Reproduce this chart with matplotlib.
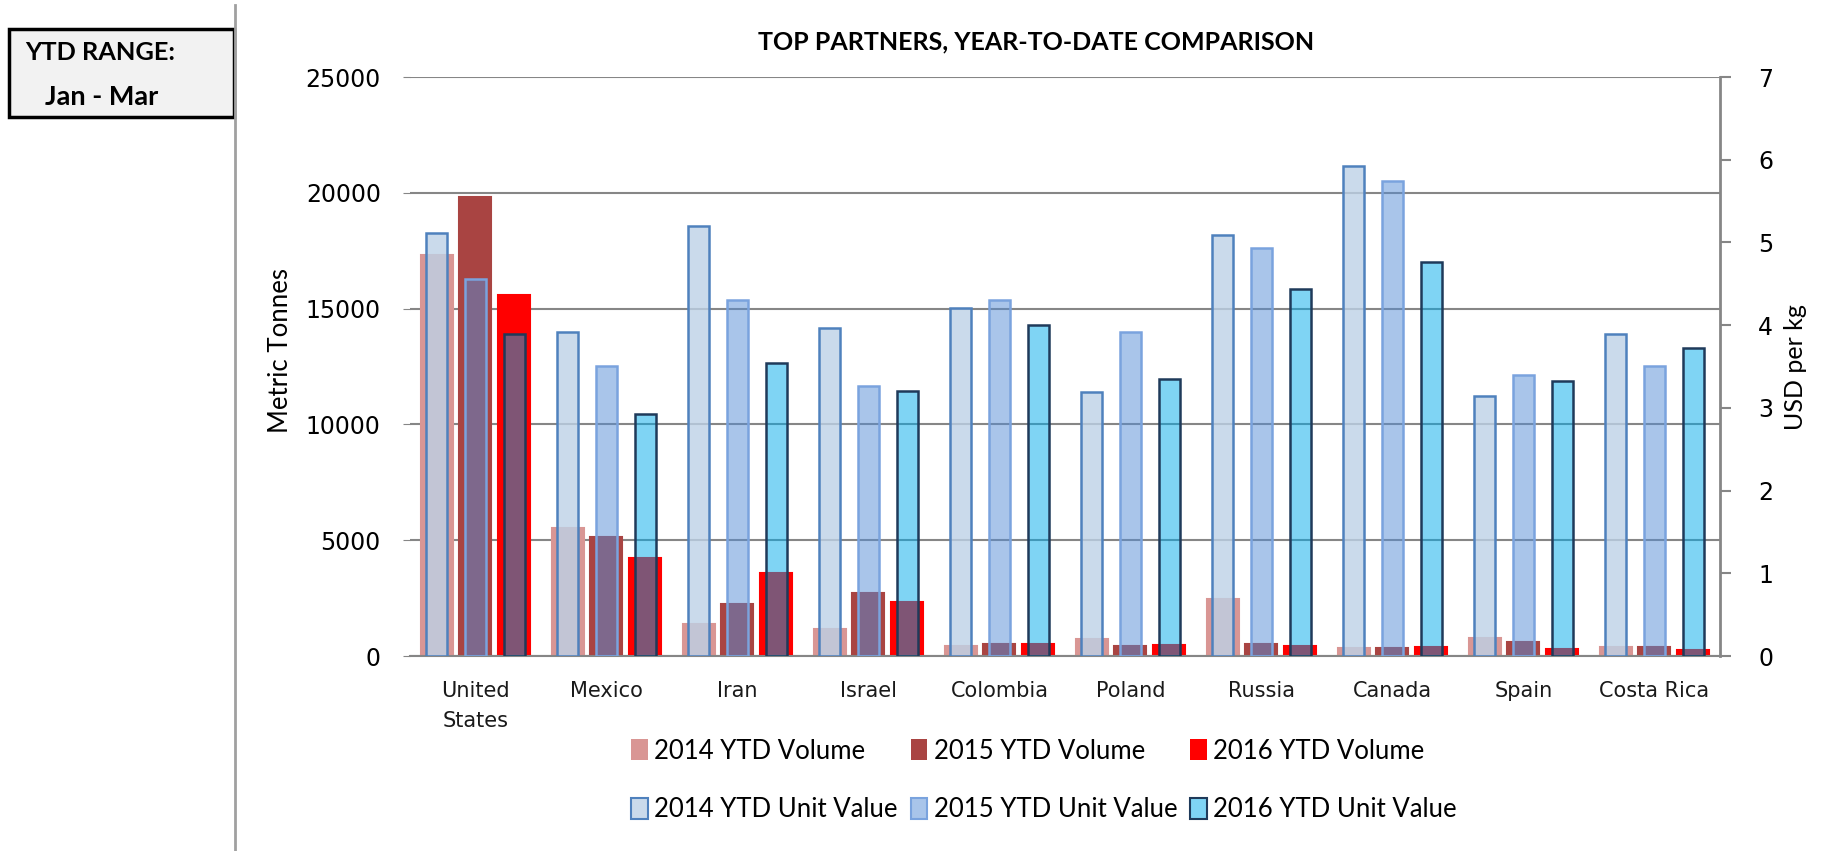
import numpy as np
import matplotlib.pyplot as plt
from matplotlib.patches import Patch, Rectangle
from matplotlib.lines import Line2D

# 数据
countries = ['United\nStates', 'Mexico', 'Iran', 'Israel', 'Colombia',
             'Poland', 'Russia', 'Canada', 'Spain', 'Costa Rica']
vol_2014 = [17300, 5550, 1370, 1170, 430, 720, 2450, 340, 800, 410]
vol_2015 = [19800, 5150, 2260, 2730, 520, 430, 540, 340, 610, 410]
vol_2016 = [15600, 4250, 3600, 2350, 540, 500, 440, 380, 300, 270]
uv_2014 = [5.11, 3.92, 5.20, 3.97, 4.21, 3.19, 5.09, 5.93, 3.15, 3.89]
uv_2015 = [4.56, 3.51, 4.30, 3.26, 4.30, 3.92, 4.93, 5.74, 3.40, 3.51]
uv_2016 = [3.89, 2.93, 3.54, 3.21, 4.00, 3.35, 4.44, 4.76, 3.32, 3.73]
vol_labels = ['2014 YTD Volume', '2015 YTD Volume', '2016 YTD Volume']
uv_labels = ['2014 YTD Unit Value', '2015 YTD Unit Value', '2016 YTD Unit Value']

GRID = '#868686'
vol_colors = ['#d99694', '#a94442', '#ff0000']
uv_fill = [(0.74, 0.82, 0.90, 0.8), (0.33, 0.55, 0.84, 0.5), (0.0, 0.67, 0.92, 0.5)]
uv_edge = ['#4f81bd', '#7aa3de', '#1f3a5a']

fig = plt.figure(figsize=(18.35, 8.51), dpi=100)
ax = fig.add_axes([0.2234, 0.229, 0.7139, 0.6805])
x = np.arange(len(countries))
offsets = [-0.295, 0.0, 0.295]

for vals, off, c in zip([vol_2014, vol_2015, vol_2016], offsets, vol_colors):
    ax.bar(x + off, vals, width=0.245, color=c, edgecolor=c, linewidth=1.5)

ax.set_xlim(-0.5, len(countries) - 0.5)
ax.set_ylim(0, 25000)
ax.set_yticks(np.arange(0, 25001, 5000))
ax.yaxis.grid(True, color=GRID, linewidth=1.5)
ax.set_axisbelow(True)
ax.set_xticks(x)
ax.set_xticklabels(countries, fontsize=15, family='DejaVu Sans', color='#1a1a1a')
for t in ax.get_xticklabels():
    t.set_linespacing(1.6)
ax.tick_params(axis='x', length=0, pad=18)
ax.tick_params(axis='y', length=5, color=GRID, labelsize=17, pad=16)
for s in ['left', 'top', 'right']:
    ax.spines[s].set_visible(False)
ax.spines['bottom'].set_color(GRID)
ax.spines['bottom'].set_linewidth(1.5)
ax.set_ylabel('Metric Tonnes', fontsize=18.5, family='Lato')
ax.yaxis.set_label_coords(-0.089, 0.527)

ax2 = ax.twinx()
for vals, off, fc, ec in zip([uv_2014, uv_2015, uv_2016], offsets, uv_fill, uv_edge):
    ax2.bar(x + off, vals, width=0.16, color=fc, edgecolor=ec, linewidth=1.8)
ax2.set_ylim(0, 7)
ax2.set_yticks(range(0, 8))
ax2.tick_params(axis='y', length=8, color=GRID, width=1.5, labelsize=17, pad=19.5)
for s in ['left', 'top', 'bottom']:
    ax2.spines[s].set_visible(False)
ax2.spines['right'].set_color(GRID)
ax2.spines['right'].set_linewidth(2)
ax2.set_ylabel('USD per kg', fontsize=18, family='Lato')
ax2.yaxis.set_label_coords(1.049, 0.5)

fig.text(0.5646, 0.951, 'TOP PARTNERS, YEAR-TO-DATE COMPARISON', ha='center', va='center',
         fontsize=18, fontweight='bold', family='Lato')

# 图例: 第一行体积, 第二行单价
handles, labels = [], []
for i in range(3):
    handles.append(Patch(facecolor=vol_colors[i], edgecolor='none'))
    labels.append(vol_labels[i])
    handles.append(Patch(facecolor=uv_fill[i], edgecolor=uv_edge[i], linewidth=1.5))
    labels.append(uv_labels[i])
fig.legend(handles, labels, ncol=3, loc='center', bbox_to_anchor=(0.569, 0.083),
           frameon=False, prop={'family': 'Lato', 'size': 18.5}, handlelength=0.65,
           handleheight=0.9, handletextpad=0.25, columnspacing=0.5, labelspacing=1.3)

# 左上角 YTD 范围框
fig.add_artist(Rectangle((9 / 1835, 1 - 117 / 851), 225 / 1835, 88 / 851,
                         transform=fig.transFigure, facecolor='#f2f2f2',
                         edgecolor='black', linewidth=2.5))
fig.add_artist(Line2D([235 / 1835, 235 / 1835], [0, 1 - 5 / 851],
                      transform=fig.transFigure, color='#a0a0a0', linewidth=2))
fig.text(25 / 1835, 1 - 52 / 851, 'YTD RANGE:', ha='left', va='center',
         fontsize=18.3, fontweight='bold', family='Lato')
fig.text(45 / 1835, 1 - 97 / 851, 'Jan - Mar', ha='left', va='center',
         fontsize=19.5, fontweight='bold', family='Lato')

fig.savefig('out.png', dpi=100, facecolor='white')
